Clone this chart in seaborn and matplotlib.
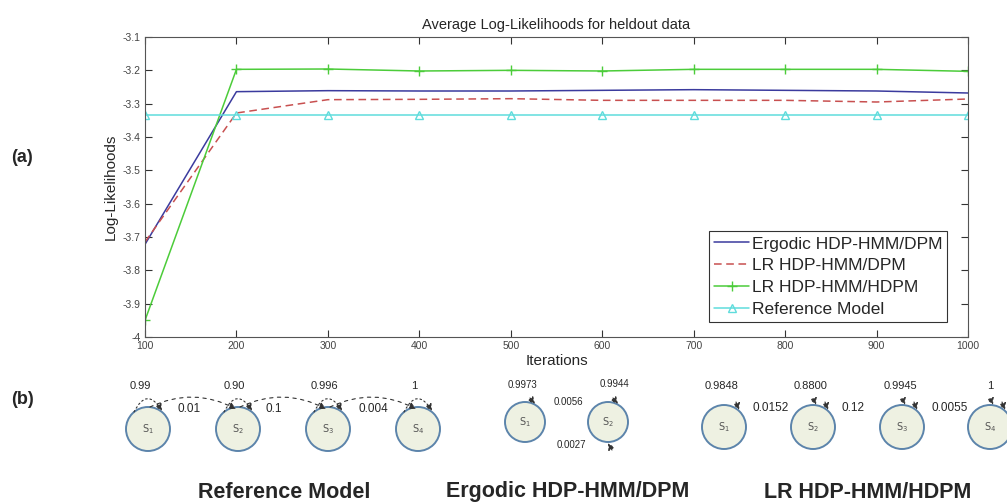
import numpy as np
import pandas as pd
import seaborn as sns
import matplotlib
matplotlib.use("Agg")
import matplotlib.pyplot as plt
from matplotlib.patches import Circle, FancyArrowPatch

# ---------------- data ----------------
iterations = [100, 200, 300, 400, 500, 600, 700, 800, 900, 1000]
ergodic_dpm = [-3.722, -3.264, -3.261, -3.262, -3.262, -3.260, -3.258, -3.260, -3.262, -3.268]
lr_dpm = [-3.715, -3.328, -3.288, -3.287, -3.285, -3.290, -3.290, -3.290, -3.295, -3.286]
lr_hdpm = [-3.950, -3.197, -3.196, -3.202, -3.200, -3.202, -3.197, -3.197, -3.197, -3.203]
reference = [-3.335] * 10
series_names = ["Ergodic HDP-HMM/DPM", "LR HDP-HMM/DPM", "LR HDP-HMM/HDPM", "Reference Model"]
y_ticks = [-3.1, -3.2, -3.3, -3.4, -3.5, -3.6, -3.7, -3.8, -3.9, -4.0]
y_tick_labels = ["-3.1", "-3.2", "-3.3", "-3.4", "-3.5", "-3.6", "-3.7", "-3.8", "-3.9", "-4"]

# state diagrams (panel b)
ref_self = ["0.99", "0.90", "0.996", "1"]
ref_trans = ["0.01", "0.1", "0.004"]
erg_self = ["0.9973", "0.9944"]
erg_trans = ["0.0056", "0.0027"]
lr_self = ["0.9848", "0.8800", "0.9945", "1"]
lr_trans = ["0.0152", "0.12", "0.0055"]
diagram_titles = ["Reference Model", "Ergodic HDP-HMM/DPM", "LR HDP-HMM/HDPM"]

sns.set_style("ticks")
plt.rcParams["font.family"] = ["Liberation Sans", "DejaVu Sans"]

fig = plt.figure(figsize=(10.07, 5.04), dpi=100)

# background axis for panel b, pixel coordinates
bg = fig.add_axes([0, 0, 1, 1], zorder=0)
bg.set_xlim(0, 1007)
bg.set_ylim(504, 0)
bg.axis("off")

ax = fig.add_axes([145 / 1007, 1 - 337 / 504, (968 - 145) / 1007, 300 / 504], zorder=2)

df = pd.DataFrame({
    "Iterations": iterations * 4,
    "LL": ergodic_dpm + lr_dpm + lr_hdpm + reference,
    "Model": sum([[n] * len(iterations) for n in series_names], []),
})
colors = ["#3b3b9e", "#c85050", "#4ccc3a", "#5fdcdc"]
styles = [dict(linestyle="-", marker=None),
          dict(linestyle=(0, (5, 3)), marker=None),
          dict(linestyle="-", marker="+", markersize=7, markeredgewidth=1),
          dict(linestyle="-", marker="^", markersize=6, markerfacecolor="none",
               markeredgewidth=1)]
for name, c, st in zip(series_names, colors, styles):
    sub = df[df["Model"] == name]
    sns.lineplot(data=sub, x="Iterations", y="LL", ax=ax, color=c, label=name,
                 linewidth=1.1, markeredgecolor=c, **st)

ax.set_xlim(100, 1000)
ax.set_ylim(-4.0, -3.1)
ax.set_xticks(iterations)
ax.set_yticks(y_ticks)
ax.set_yticklabels(y_tick_labels)
ax.tick_params(direction="in", top=True, right=True, length=5, labelsize=7.5,
               labelcolor="#444444", color="#333333", pad=3)
for s in ax.spines.values():
    s.set_color("#555555")
    s.set_linewidth(0.8)
ax.set_xlabel("Iterations", fontsize=11, labelpad=2)
ax.set_ylabel("Log-Likelihoods", fontsize=11, labelpad=4)
ax.set_title("Average Log-Likelihoods for heldout data", fontsize=10.5, pad=6)
leg = ax.legend(loc="lower right", bbox_to_anchor=(0.975, 0.05), fontsize=12.5,
                frameon=True, fancybox=False, edgecolor="black", handlelength=2.0,
                handletextpad=0.15, borderpad=0.3, labelspacing=0.38, borderaxespad=0)
leg.get_frame().set_linewidth(0.8)

fig.text(22 / 1007, 1 - 158 / 504, "(a)", fontsize=13, fontweight="bold", ha="center", va="center")
fig.text(22 / 1007, 1 - 400 / 504, "(b)", fontsize=13, fontweight="bold", ha="center", va="center")

# ---------- panel b drawing ----------
fill = "#eef1e2"
edge = "#5c84ab"


def state(cx, cy, r, idx):
    bg.add_patch(Circle((cx, cy), r, facecolor=fill, edgecolor=edge, linewidth=1.4))
    bg.text(cx, cy, r"$\mathrm{S_{%d}}$" % idx, ha="center", va="center", fontsize=7,
            color="#555555")


def arc(p0, p1, rad, ls=(0, (1.5, 2.5))):
    bg.add_patch(FancyArrowPatch(p0, p1, connectionstyle="arc3,rad=%f" % rad,
                                 arrowstyle="-|>,head_length=4,head_width=2",
                                 linestyle=ls, color="#333333", linewidth=0.8,
                                 shrinkA=0, shrinkB=0))


# Reference model
ref_x = [148, 238, 328, 418]
ref_y = 429
for i, cx in enumerate(ref_x):
    state(cx, ref_y, 22, i + 1)
    arc((cx - 14, ref_y - 17), (cx + 14, ref_y - 18), -0.9)
    bg.text(cx - 8 if i == 0 else cx - 4, 386, ref_self[i], ha="center", va="center",
            fontsize=8)
for i, x in enumerate([189, 274, 373]):
    arc((ref_x[i] + 2, ref_y - 22), (ref_x[i + 1] - 2, ref_y - 20), -0.25,
        ls=(0, (3, 4)))
    bg.text(x, 409, ref_trans[i], ha="center", va="center", fontsize=8.5)

# Ergodic
erg_x = [525, 608]
erg_y = 422
for i, cx in enumerate(erg_x):
    state(cx, erg_y, 20, i + 1)
    arc((cx + 5, erg_y - 24), (cx + 10, erg_y - 18), 0.0)
bg.text(522, 385, erg_self[0], ha="center", va="center", fontsize=7)
bg.text(614, 384, erg_self[1], ha="center", va="center", fontsize=7)
bg.text(568, 402, erg_trans[0], ha="center", va="center", fontsize=7)
bg.text(571, 445, erg_trans[1], ha="center", va="center", fontsize=7)
arc((612, 450), (608, 443), 0.0)

# LR HDP-HMM/HDPM
lr_x = [724, 813, 902, 990]
lr_y = 427
for i, cx in enumerate(lr_x):
    state(cx, lr_y, 22, i + 1)
    arc((cx + 12, lr_y - 25), (cx + 15, lr_y - 17), 0.0)
    if i > 0:
        arc((cx + 1, lr_y - 27), (cx + 3, lr_y - 22), 0.0)
    bg.text(cx - 2 if i < 3 else cx, 386, lr_self[i], ha="center", va="center", fontsize=8)
for i, x in enumerate([771, 853, 950]):
    bg.text(x, 408, lr_trans[i], ha="center", va="center", fontsize=8.5)

for t, x in zip(diagram_titles, [284, 568, 868]):
    bg.text(x, 492, t, ha="center", va="center", fontsize=15.5, fontweight="bold")

fig.savefig("out.png", dpi=100)
